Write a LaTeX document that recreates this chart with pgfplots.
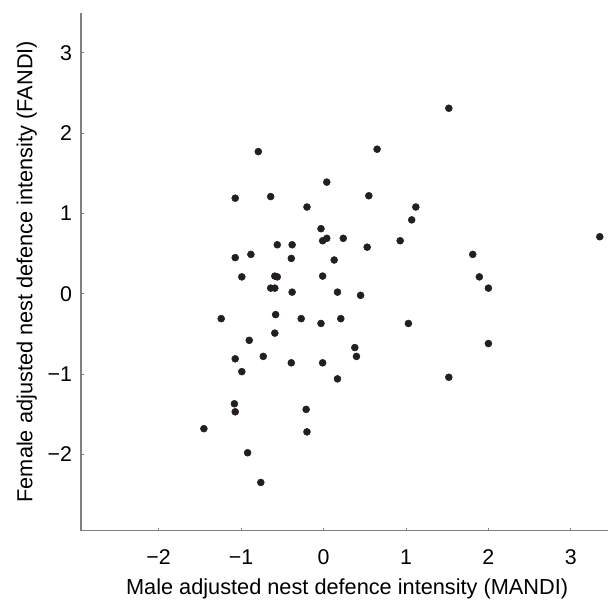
\documentclass[border=0pt]{standalone}
\usepackage{pgfplots}
\pgfplotsset{compat=1.18}
\usepackage{fontspec}
\setmainfont{Liberation Sans}
\definecolor{axgray}{gray}{0.5}
\definecolor{dot}{HTML}{231F20}

\begin{document}
\begin{tikzpicture}
\begin{axis}[
    scale only axis,
    width=395.25pt, height=388.5pt,
    xmin=-2.94, xmax=3.45,
    ymin=-2.95, ymax=3.5,
    axis x line*=bottom, axis y line*=left,
    axis line style={axgray, line width=1pt, -},
    tick align=inside,
    major tick length=2pt,
    tick style={axgray, line width=0.6pt},
    xtick={-2,-1,0,1,2,3},
    xticklabels={−2,−1,0,1,2,3},
    ytick={-2,-1,0,1,2,3},
    yticklabels={−2,−1,0,1,2,3},
    tick label style={font=\fontsize{16}{19}\selectfont},
    xticklabel style={anchor=base, yshift=-25.2pt},
    yticklabel style={anchor=east, inner sep=0pt, xshift=-6.5pt},
    label style={font=\fontsize{16.3}{19}\selectfont},
    xlabel={Male adjusted nest defence intensity (MANDI)},
    ylabel={Female adjusted nest defence intensity (FANDI)},
    xlabel style={at={(axis description cs:0.505,-0.1223)}, anchor=base, inner sep=0pt},
    ylabel style={at={(axis description cs:-0.0924,0.5)}, anchor=base, inner sep=0pt},
    clip=false,
]
\addplot[only marks, mark=*, mark size=2.6pt, draw=dot, fill=dot]
coordinates {
(-0.79,1.77) (-1.07,1.19) (-0.64,1.21) (0.04,1.39) (-0.20,1.08)
(-0.03,0.81) (-0.01,0.66) (0.04,0.69) (-0.56,0.61) (-0.38,0.61)
(-0.88,0.49) (-1.07,0.45) (-0.39,0.44) (0.13,0.42) (-0.99,0.21)
(-0.59,0.22) (-0.56,0.21) (-0.01,0.22) (-0.64,0.07) (-0.59,0.07)
(-0.38,0.02) (0.17,0.02) (1.52,2.31) (0.65,1.80) (0.55,1.22)
(1.12,1.08) (1.07,0.92) (0.24,0.69) (0.53,0.58) (0.93,0.66)
(3.35,0.71) (1.81,0.49) (1.89,0.21) (2.00,0.07) (0.45,-0.02)
(-1.24,-0.31) (-0.58,-0.26) (-0.27,-0.31) (-0.03,-0.37) (0.21,-0.31)
(-0.59,-0.49) (-0.90,-0.58) (-0.73,-0.78) (-1.07,-0.81) (-0.39,-0.86)
(-0.01,-0.86) (-0.99,-0.97) (0.17,-1.06) (-1.08,-1.37) (-1.07,-1.47)
(-0.21,-1.44) (-1.45,-1.68) (-0.20,-1.72) (-0.92,-1.98) (-0.76,-2.35)
(1.03,-0.37) (2.00,-0.62) (0.38,-0.67) (0.40,-0.78) (1.52,-1.04)
};
\coordinate (SW) at (rel axis cs:0,0);
\coordinate (NE) at (rel axis cs:1,1);
\end{axis}
\pgfresetboundingbox
\path ([shift={(-60.75pt,-52pt)}]SW) rectangle ([shift={(0pt,9.5pt)}]NE);
\end{tikzpicture}
\end{document}
